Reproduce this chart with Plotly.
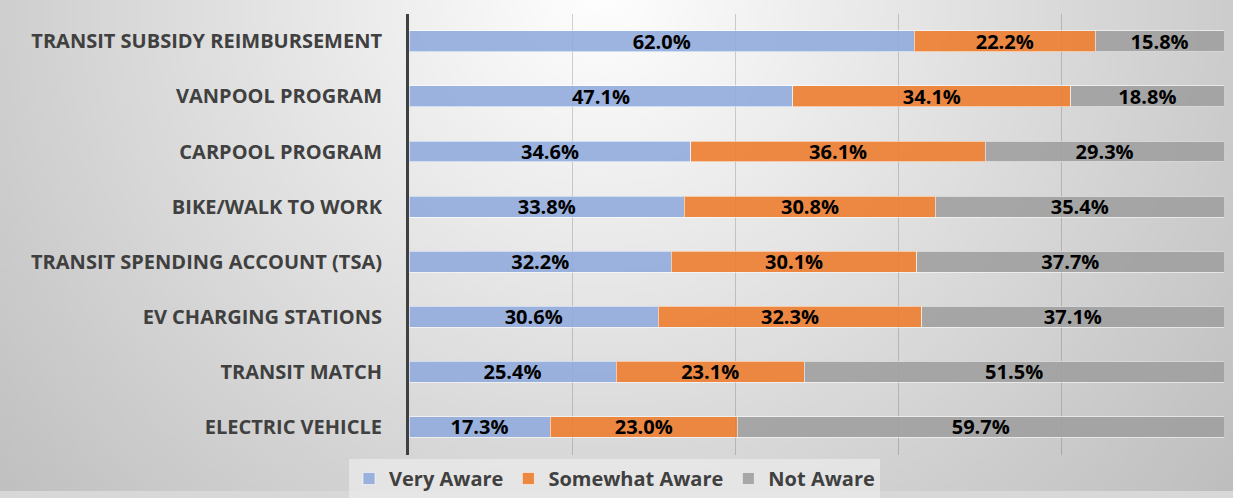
import base64
import struct
import zlib

import numpy as np
import plotly.graph_objects as go

# Awareness of commuter programs (percent of respondents)
programs = [
    "TRANSIT SUBSIDY REIMBURSEMENT",
    "VANPOOL PROGRAM",
    "CARPOOL PROGRAM",
    "BIKE/WALK TO WORK",
    "TRANSIT SPENDING ACCOUNT (TSA)",
    "EV CHARGING STATIONS",
    "TRANSIT MATCH",
    "ELECTRIC VEHICLE",
]
very_aware = [62.0, 47.1, 34.6, 33.8, 32.2, 30.6, 25.4, 17.3]
somewhat_aware = [22.2, 34.1, 36.1, 30.8, 30.1, 32.3, 23.1, 23.0]
not_aware = [15.8, 18.8, 29.3, 35.4, 37.7, 37.1, 51.5, 59.7]

series = [
    ("Very Aware", very_aware, "rgba(143,170,220,0.88)"),
    ("Somewhat Aware", somewhat_aware, "rgba(237,125,49,0.90)"),
    ("Not Aware", not_aware, "rgba(160,160,160,0.90)"),
]

W, H = 1233, 498


def gradient_png(w, h):
    """Soft radial grey backdrop, brightest near the top centre."""
    sx, sy = W / w, H / h
    xs = (np.arange(w) + 0.5) * sx
    ys = (np.arange(h) + 0.5) * sy
    X, Y = np.meshgrid(xs, ys)
    d = np.sqrt((X - 600.0) ** 2 + (Y + 10.0) ** 2)
    v = np.clip(255.0 - 0.080 * d, 188, 255).astype(np.uint8)
    rgb = np.stack([v, v, v], axis=-1)
    raw = b"".join(b"\x00" + rgb[r].tobytes() for r in range(h))

    def chunk(tag, data):
        c = struct.pack(">I", len(data)) + tag + data
        return c + struct.pack(">I", zlib.crc32(tag + data) & 0xFFFFFFFF)

    png = b"\x89PNG\r\n\x1a\n"
    png += chunk(b"IHDR", struct.pack(">IIBBBBB", w, h, 8, 2, 0, 0, 0))
    png += chunk(b"IDAT", zlib.compress(raw, 9))
    png += chunk(b"IEND", b"")
    return "data:image/png;base64," + base64.b64encode(png).decode()


FONT = "Open Sans"

fig = go.Figure()
for name, vals, color in series:
    fig.add_trace(
        go.Bar(
            y=programs,
            x=vals,
            name=name,
            orientation="h",
            marker=dict(color=color, line=dict(color="rgba(255,255,255,0.55)", width=1)),
            text=[f"{v:.1f}%" for v in vals],
            textposition="inside",
            insidetextanchor="middle",
            textangle=0,
            constraintext="none",
            textfont=dict(family=FONT, size=20, color="#000000", weight="bold"),
            hoverinfo="skip",
        )
    )

fig.update_layout(
    width=W,
    height=H,
    barmode="stack",
    bargap=0.62,
    margin=dict(l=0, r=0, t=0, b=0),
    paper_bgcolor="#d8d8d8",
    plot_bgcolor="rgba(0,0,0,0)",
    showlegend=True,
    legend=dict(
        orientation="h",
        x=349 / W,
        xanchor="left",
        y=1 - 466 / H,
        yanchor="top",
        bgcolor="rgba(242,242,242,0.55)",
        font=dict(family=FONT, size=20, color="#404040", weight="bold"),
        itemclick=False,
        traceorder="normal",
    ),
    images=[
        dict(
            source=gradient_png(247, 100),
            xref="paper",
            yref="paper",
            x=0,
            y=1,
            sizex=1,
            sizey=1,
            xanchor="left",
            yanchor="top",
            sizing="stretch",
            layer="below",
        )
    ],
    xaxis=dict(
        domain=[409 / W, 1224 / W],
        range=[0, 100],
        dtick=20,
        showgrid=True,
        gridcolor="rgba(60,60,60,0.22)",
        gridwidth=1,
        zeroline=False,
        showline=False,
        showticklabels=False,
        fixedrange=True,
    ),
    yaxis=dict(
        domain=[1 - 461 / H, 1 - 14 / H],
        autorange="reversed",
        showline=True,
        linecolor="#404040",
        linewidth=3,
        showgrid=False,
        ticks="",
        ticklabelstandoff=20,
        tickfont=dict(family=FONT, size=20, color="#404040", weight="bold"),
        fixedrange=True,
    ),
)

fig.write_html("out.html")
